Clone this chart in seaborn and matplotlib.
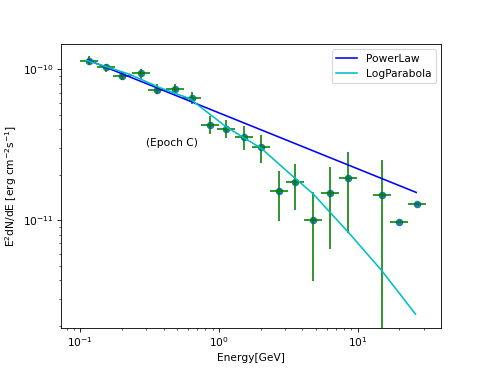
import matplotlib
matplotlib.use("Agg")
import matplotlib.pyplot as plt
import numpy as np
import pandas as pd
import seaborn as sns

# ---- data points ----
energy = [0.1151, 0.1544, 0.2014, 0.2729, 0.3575, 0.4796, 0.6435, 0.8669, 1.131, 1.514,
          1.997, 2.692, 3.551, 4.755, 6.304, 8.498, 15.04, 19.81, 26.71]
e_lo = [0.0991, 0.1330, 0.1735, 0.2351, 0.3079, 0.4131, 0.5543, 0.7467, 0.9742, 1.3040,
        1.7201, 2.3187, 3.0586, 4.0956, 5.4298, 7.3196, 12.954, 17.063, 23.006]
e_hi = [0.1336, 0.1793, 0.2338, 0.3168, 0.4151, 0.5568, 0.7471, 1.0065, 1.3131, 1.7578,
        2.3185, 3.1254, 4.1227, 5.5206, 7.3189, 9.8662, 17.461, 22.999, 31.010]
flux = [1.13e-10, 1.03e-10, 9.0e-11, 9.4e-11, 7.34e-11, 7.45e-11, 6.5e-11, 4.26e-11, 4.05e-11,
        3.56e-11, 3.04e-11, 1.56e-11, 1.80e-11, 1.0e-11, 1.52e-11, 1.89e-11, 1.46e-11,
        9.66e-12, 1.27e-11]
f_hi = [1.219e-10, 1.091e-10, 9.60e-11, 1.011e-10, 8.04e-11, 8.04e-11, 7.07e-11, 4.88e-11,
        4.59e-11, 4.19e-11, 3.66e-11, 2.11e-11, 2.37e-11, 1.54e-11, 2.26e-11, 2.81e-11,
        2.52e-11, 9.66e-12, 1.27e-11]
f_lo = [1.063e-10, 9.60e-11, 8.46e-11, 8.68e-11, 6.90e-11, 6.90e-11, 5.86e-11, 3.75e-11,
        3.48e-11, 2.91e-11, 2.40e-11, 9.94e-12, 1.16e-11, 3.96e-12, 6.42e-12, 8.25e-12,
        1.0e-12, 9.66e-12, 1.27e-11]

# ---- model curves ----
pl_energy = [0.1138, 26.44]
pl_flux = [1.153e-10, 1.527e-11]
lp_energy = [0.1108, 0.2273, 0.3739, 0.6150, 1.131, 2.021, 3.231, 4.755, 6.274, 8.498, 14.79, 26.14]
lp_flux = [1.148e-10, 9.27e-11, 7.57e-11, 6.40e-11, 4.15e-11, 2.99e-11, 2.04e-11, 1.50e-11,
           1.135e-11, 8.38e-12, 4.67e-12, 2.38e-12]

fig, ax = plt.subplots(figsize=(6.4, 4.807), dpi=490 / 6.4)

E = np.array(energy)
F = np.array(flux)
xerr = [E - np.array(e_lo), np.array(e_hi) - E]
yerr = [F - np.array(f_lo), np.array(f_hi) - F]

pts = pd.DataFrame({"E": energy, "F": flux})
sns.scatterplot(data=pts, x="E", y="F", ax=ax, color="C0", s=50, linewidth=0, zorder=1)
ax.errorbar(E, F, xerr=xerr, yerr=yerr, fmt="none", ecolor="g", elinewidth=1.5, zorder=2)

pl = pd.DataFrame({"E": pl_energy, "F": pl_flux})
lp = pd.DataFrame({"E": lp_energy, "F": lp_flux})
sns.lineplot(data=pl, x="E", y="F", ax=ax, color="b", label="PowerLaw", linewidth=1.5)
sns.lineplot(data=lp, x="E", y="F", ax=ax, color="c", label="LogParabola", linewidth=1.5)

ax.set_xscale("log")
ax.set_yscale("log")
ax.set_xlim(0.0730, 39.9)
ax.set_ylim(1.94e-12, 1.47e-10)

ax.text(0.30, 3.1e-11, "(Epoch C)")
ax.set_xlabel("Energy[GeV]")
ax.set_ylabel("E$^2$dN/dE [erg cm$^{-2}$s$^{-1}$]")
ax.legend(loc="upper right")

fig.savefig("out.png", dpi=490 / 6.4)
